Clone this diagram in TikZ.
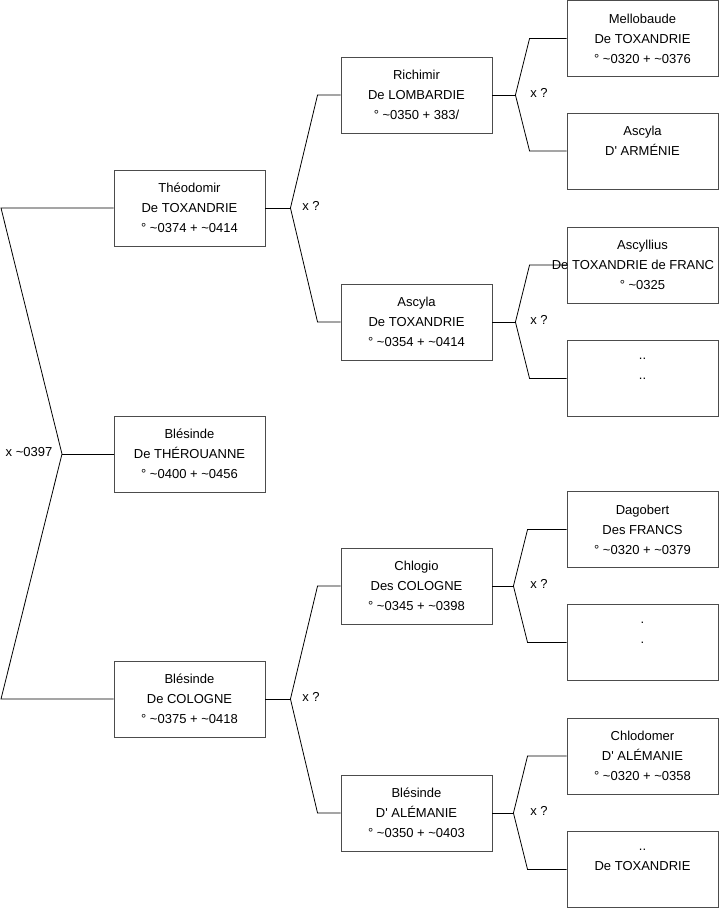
\documentclass[tikz,border=0pt]{standalone}
\usepackage{fontspec}
\setmainfont{Liberation Sans}
\begin{document}
\begin{tikzpicture}[
    x=1pt, y=-1pt,
    person/.style={draw=black!70, line width=0.9pt, minimum width=151pt, minimum height=76pt,
        inner sep=0pt, align=center, font=\fontsize{13}{20}\selectfont},
    tie/.style={line width=0.8pt},
    marr/.style={font=\fontsize{13}{16}\selectfont, inner sep=0pt}
]
    \useasboundingbox (0,0) rectangle (719,908);

    % Generation 1
    \node[person] (theodomir) at (189.5,208) {Théodomir\\De TOXANDRIE\\° \textasciitilde0374 + \textasciitilde0414};
    \node[person] (therouanne) at (189.5,454) {Blésinde\\De THÉROUANNE\\° \textasciitilde0400 + \textasciitilde0456};
    \node[person] (cologne) at (189.5,699) {Blésinde\\De COLOGNE\\° \textasciitilde0375 + \textasciitilde0418};

    % Generation 2
    \node[person] (richimir) at (416.5,95) {Richimir\\De LOMBARDIE\\° \textasciitilde0350 + 383/};
    \node[person] (ascyla) at (416.5,322) {Ascyla\\De TOXANDRIE\\° \textasciitilde0354 + \textasciitilde0414};
    \node[person] (chlogio) at (416.5,586) {Chlogio\\Des COLOGNE\\° \textasciitilde0345 + \textasciitilde0398};
    \node[person] (alemanie) at (416.5,813) {Blésinde\\D\textquotesingle{} ALÉMANIE\\° \textasciitilde0350 + \textasciitilde0403};

    % Generation 3
    \node[person] (mellobaude) at (642.5,38.5) {Mellobaude\\De TOXANDRIE\\° \textasciitilde0320 + \textasciitilde0376};
    \node[person] (armenie) at (642.5,151) {Ascyla\\D\textquotesingle{} ARMÉNIE\\\mbox{}};
    \node[person] (ascyllius) at (642.5,265) {Ascyllius\\\makebox[0pt]{De TOXANDRIE de FRANC\hspace{19pt}}\\° \textasciitilde0325};
    \node[person] (unknownA) at (642.5,378.5) {..\\..\\\mbox{}};
    \node[person] (dagobert) at (642.5,529.5) {Dagobert\\Des FRANCS\\° \textasciitilde0320 + \textasciitilde0379};
    \node[person] (unknownB) at (642.5,642.5) {.\\.\\\mbox{}};
    \node[person] (chlodomer) at (642.5,756) {Chlodomer\\D\textquotesingle{} ALÉMANIE\\° \textasciitilde0320 + \textasciitilde0358};
    \node[person] (unknownC) at (642.5,869.5) {..\\De TOXANDRIE\\\mbox{}};

    % Root marriage
    \coordinate (rt) at (1,208);
    \coordinate (rb) at (1,699);
    \coordinate (r0) at (62,454);
    \draw[tie] (theodomir.west) -- (rt) -- (r0) -- (rb) -- (cologne.west);
    \draw[tie] (r0) -- (therouanne.west);
    \node[marr] (m0) at (29,452) {x \textasciitilde0397};

    % Parents of generation 1
    \draw[tie] (theodomir.east) -- ++(25,0) coordinate (f1);
    \draw[tie] (richimir.west) -- ++(-23,0) -- (f1) -- ([xshift=-23pt]ascyla.west) -- (ascyla.west);
    \node[marr] (m1) at (311,206) {x ?};

    \draw[tie] (cologne.east) -- ++(25,0) coordinate (f2);
    \draw[tie] (chlogio.west) -- ++(-23,0) -- (f2) -- ([xshift=-23pt]alemanie.west) -- (alemanie.west);
    \node[marr] (m2) at (311,697) {x ?};

    % Parents of generation 2
    \draw[tie] (richimir.east) -- ++(23,0) coordinate (f3);
    \draw[tie] (mellobaude.west) -- ++(-37,0) -- (f3) -- ([xshift=-37pt]armenie.west) -- (armenie.west);
    \node[marr] (m3) at (539,93) {x ?};

    \draw[tie] (ascyla.east) -- ++(23,0) coordinate (f4);
    \draw[tie] (ascyllius.west) -- ++(-37,0) -- (f4) -- ([xshift=-37pt]unknownA.west) -- (unknownA.west);
    \node[marr] (m4) at (539,320) {x ?};

    \draw[tie] (chlogio.east) -- ++(21,0) coordinate (f5);
    \draw[tie] (dagobert.west) -- ++(-39,0) -- (f5) -- ([xshift=-39pt]unknownB.west) -- (unknownB.west);
    \node[marr] (m5) at (539,584) {x ?};

    \draw[tie] (alemanie.east) -- ++(21,0) coordinate (f6);
    \draw[tie] (chlodomer.west) -- ++(-39,0) -- (f6) -- ([xshift=-39pt]unknownC.west) -- (unknownC.west);
    \node[marr] (m6) at (539,811) {x ?};
\end{tikzpicture}
\end{document}
